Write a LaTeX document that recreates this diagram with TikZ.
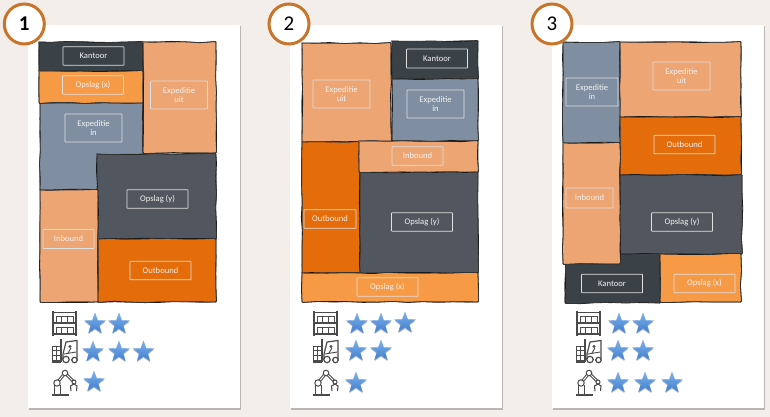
\documentclass[tikz,border=0pt]{standalone}
\usepackage{fontspec}
\setmainfont{Carlito}
\usetikzlibrary{shapes.geometric,shadows,decorations.pathmorphing}
\definecolor{pagebg}{HTML}{F3EEE9}
\definecolor{ringcol}{HTML}{C8742A}
\definecolor{kantoorcol}{HTML}{3A4248}
\definecolor{opslagxcol}{HTML}{F79A46}
\definecolor{opslagycol}{HTML}{52575F}
\definecolor{expincol}{HTML}{7F8FA1}
\definecolor{expuitcol}{HTML}{EDA573}
\definecolor{outboundcol}{HTML}{E46C0A}
\definecolor{iconcol}{HTML}{4A4A4A}
\definecolor{startop}{HTML}{7DB1EE}
\definecolor{starbot}{HTML}{3F7DCB}
\tikzset{
	card/.style={fill=white, drop shadow={shadow xshift=1pt, shadow yshift=-1.5pt, opacity=.35, fill=black!70}},
	ringnum/.style={circle, draw=ringcol, line width=3pt, fill=white, minimum size=40pt, inner sep=0pt, font=\fontsize{21}{21}\selectfont},
	room/.style={
		decoration={random steps, segment length=15pt, amplitude=.7pt},
		line join=round, rounded corners=1pt,
		preaction={decorate, fill=#1, draw=black!90, line width=.8pt},
		postaction={decorate, draw=black!75, line width=.5pt}},
	tag/.style={draw=white!88!black, line width=.7pt, text=white!95!black, inner sep=0pt, align=center,
		font=\fontsize{8.6}{9.4}\selectfont, minimum width=#1, rounded corners=.5pt},
	tagone/.style={tag=61pt, minimum height=18.5pt},
	tagtwo/.style={tag=57pt, minimum height=28pt},
	starmark/.style={star, star points=5, star point ratio=2.4, minimum size=22pt, inner sep=0pt,
		top color=startop, bottom color=starbot, draw=starbot!70, line width=.2pt,
		drop shadow={shadow xshift=0pt, shadow yshift=-1.2pt, opacity=.25, fill=black}},
	shelfpic/.pic={
		\draw[iconcol, line width=1.8pt] (1,0) -- (1,25) (24,0) -- (24,25);
		\draw[iconcol, line width=1.3pt] (1,1.5) -- (24,1.5) (1,12) -- (24,12) (1,23) -- (24,23);
		\draw[iconcol, line width=.7pt] (4,5) rectangle (21,11) (9.5,5) -- (9.5,11) (15.5,5) -- (15.5,11);
		\draw[iconcol, line width=.7pt] (4,16) rectangle (21,22.5) (9.5,16) -- (9.5,22.5) (15.5,16) -- (15.5,22.5);
	},
	forkpic/.pic={
		\draw[iconcol, line width=.7pt] (0.5,7) rectangle (8,21) (0.5,11.7) -- (8,11.7) (0.5,16.4) -- (8,16.4) (4.2,7) -- (4.2,21);
		\draw[iconcol, line width=1.4pt] (9,0) -- (9,23) (0,23) -- (9,23);
		\draw[iconcol, line width=1.2pt] (11,15) -- (14,3) -- (25,1.5) -- (25,21) -- (19,21) (11,15) -- (11,21);
		\draw[iconcol, line width=.9pt] (12,15) -- (24,13) (16,14) -- (19,9);
		\fill[iconcol] (18,7.5) circle (1.7pt);
		\draw[iconcol, line width=1.2pt, fill=white] (14,20.5) circle (3.2pt) (22.5,21) circle (2.7pt);
	},
	robotpic/.pic={
		\draw[iconcol, line width=2pt] (0,24.5) -- (17,24.5);
		\draw[iconcol, line width=.9pt] (2.5,24) -- (2.5,15) (8,24) -- (8,15);
		\draw[iconcol, line width=3pt] (5,13) -- (13,3) -- (22,12);
		\draw[white, line width=1pt] (5,13) -- (13,3) -- (22,12);
		\draw[iconcol, line width=1pt, fill=white] (5,13) circle (3.2pt) (13,3) circle (2.8pt) (22,12) circle (2pt);
		\draw[iconcol, line width=1.1pt] (22,14) -- (18.5,16) -- (19,21) (22,14) -- (25,16) -- (24.5,21);
	},
}
\begin{document}
\begin{tikzpicture}[x=1pt, y=-1pt]
	\useasboundingbox (0,0) rectangle (770,417);
	\fill[pagebg] (0,0) rectangle (770,417);
	\fill[card] (28,25) rectangle (240,408);
	\fill[card] (290,25) rectangle (502,408);
	\fill[card] (552,25) rectangle (764,408);

	% first layout
	\begin{scope}
		\pgfmathsetseed{11}
		\path[room=kantoorcol] (39,42) rectangle (143,71);
		\path[room=expincol] (40,103) rectangle (143,190);
		\path[room=opslagxcol] (39,71) rectangle (143,103);
		\path[room=expuitcol] (143,42) rectangle (216,153);
		\path[room=opslagycol] (97,154) rectangle (216,239);
		\path[room=expuitcol] (40,190) rectangle (98,302);
		\path[room=outboundcol] (98,239) rectangle (216,302);
		\node[tagone] (kantoorA) at (93.5,56) {Kantoor};
		\node[tagone] (opslagxA) at (93,85) {Opslag (x)};
		\node[tagtwo] (expuitA) at (179,95) {Expeditie\\uit};
		\node[tagtwo] (expinA) at (93.5,128) {Expeditie\\in};
		\node[tagone] (opslagyA) at (157.5,199) {Opslag (y)};
		\node[tag=51pt, minimum height=19pt] (inboundA) at (68.5,239) {Inbound};
		\node[tagone] (outboundA) at (160.5,270.5) {Outbound};
		\pic at (52,311) {shelfpic};
		\pic at (52,339) {forkpic};
		\pic at (52,370) {robotpic};
		\node[starmark] (starAa) at (95,324) {};
		\node[starmark] (starAb) at (119,324) {};
		\node[starmark] (starAc) at (93,352) {};
		\node[starmark] (starAd) at (119,352) {};
		\node[starmark] (starAe) at (143.5,352) {};
		\node[starmark] (starAf) at (94,382) {};
	\end{scope}

	% second layout
	\begin{scope}
		\path[room=expuitcol] (302,43) rectangle (391,142);
		\path[room=kantoorcol] (392,41) rectangle (478,79);
		\path[room=expincol] (392,79) rectangle (478,141);
		\path[room=outboundcol] (302,142) rectangle (360,273);
		\path[room=opslagycol] (360,172) rectangle (478,273);
		\path[room=expuitcol] (359,141) rectangle (478,172);
		\path[room=opslagxcol] (302,273) rectangle (478,302);
		\node[tagtwo] (expuitB) at (341.5,94) {Expeditie\\uit};
		\node[tagone, minimum height=19pt] (kantoorB) at (437,58.5) {Kantoor};
		\node[tagtwo] (expinB) at (435.5,104) {Expeditie\\in};
		\node[tag=51pt, minimum height=18.5pt] (inboundB) at (417.5,156) {Inbound};
		\node[tag=52pt, minimum height=18.5pt] (outboundB) at (330,219) {Outbound};
		\node[tagone] (opslagyB) at (422,222) {Opslag (y)};
		\node[tagone] (opslagxB) at (387.5,287) {Opslag (x)};
		\pic at (313,311) {shelfpic};
		\pic at (313,339) {forkpic};
		\pic at (313,370) {robotpic};
		\node[starmark] (starBa) at (357,324) {};
		\node[starmark] (starBb) at (381,324) {};
		\node[starmark] (starBc) at (405,323) {};
		\node[starmark] (starBd) at (356,351) {};
		\node[starmark] (starBe) at (381,351) {};
		\node[starmark] (starBf) at (356,383) {};
	\end{scope}

	% third layout
	\begin{scope}
		\path[room=expincol] (563,42) rectangle (620,143);
		\path[room=expuitcol] (620,42) rectangle (741,117);
		\path[room=outboundcol] (620,117) rectangle (741,175);
		\path[room=opslagycol] (620,175) rectangle (742,254);
		\path[room=kantoorcol] (565,254) rectangle (660,303);
		\path[room=expuitcol] (563,143) rectangle (620,264);
		\path[room=opslagxcol] (660,254) rectangle (741,302);
		\node[tagtwo, minimum width=52pt] (expinC) at (592,92) {Expeditie\\in};
		\node[tagtwo] (expuitC) at (681.5,76) {Expeditie\\uit};
		\node[tagone] (outboundC) at (684.5,144.5) {Outbound};
		\node[tagone] (opslagyC) at (682,222) {Opslag (y)};
		\node[tag=47pt, minimum height=20pt] (inboundC) at (589.5,198) {Inbound};
		\node[tagone] (kantoorC) at (612,283.5) {Kantoor};
		\node[tagone] (opslagxC) at (704.5,283.5) {Opslag (x)};
		\pic at (576,311) {shelfpic};
		\pic at (576,339) {forkpic};
		\pic at (576,370) {robotpic};
		\node[starmark] (starCa) at (619,324) {};
		\node[starmark] (starCb) at (643,324) {};
		\node[starmark] (starCc) at (618,351) {};
		\node[starmark] (starCd) at (643,351) {};
		\node[starmark] (starCe) at (618,383) {};
		\node[starmark] (starCf) at (645,383) {};
		\node[starmark] (starCg) at (672,383) {};
	\end{scope}

	\node[ringnum, font=\fontsize{21}{21}\selectfont\bfseries] (numA) at (24.3,24) {1};
	\node[ringnum] (numB) at (289,24) {2};
	\node[ringnum] (numC) at (552,24) {3};
\end{tikzpicture}
\end{document}
